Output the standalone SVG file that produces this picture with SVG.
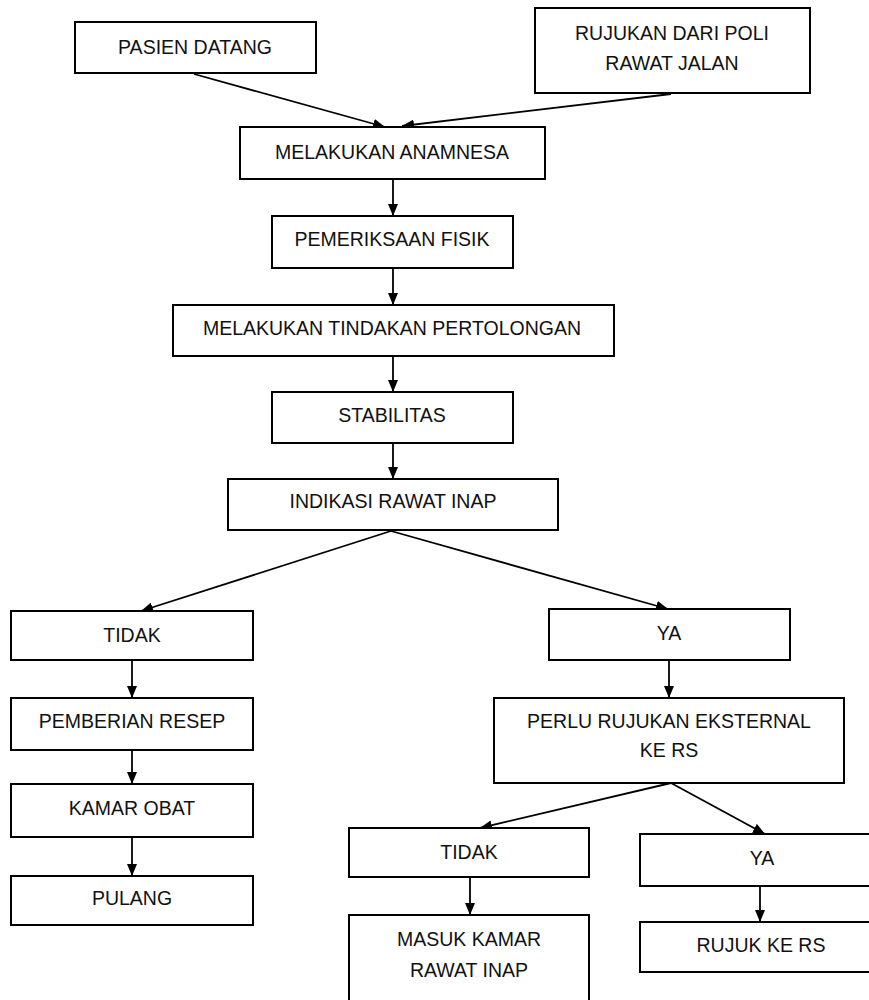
<svg xmlns="http://www.w3.org/2000/svg" width="869" height="1000" viewBox="0 0 869 1000">
<style>
.box{fill:#fff;stroke:#000;stroke-width:2}
.t{font-family:"Liberation Sans",Arial,sans-serif;font-size:19.5px;fill:#111;text-anchor:middle}
.c{stroke:#000;stroke-width:1.8;fill:none;marker-end:url(#ah)}
</style>
<defs>
<marker id="ah" markerUnits="userSpaceOnUse" markerWidth="12" markerHeight="10" refX="12" refY="5" orient="auto">
<path d="M0,0 L12,5 L0,10 z" fill="#000"/>
</marker>
</defs>
<rect width="869" height="1000" fill="#fff"/>
<g id="connectors">
<line class="c" x1="194" y1="74" x2="385" y2="127"/>
<line class="c" x1="671" y1="94" x2="402" y2="126"/>
<line class="c" x1="393" y1="179" x2="393" y2="216"/>
<line class="c" x1="393" y1="268" x2="393" y2="305"/>
<line class="c" x1="393" y1="356" x2="393" y2="392"/>
<line class="c" x1="393" y1="443" x2="393" y2="479"/>
<line class="c" x1="391" y1="531" x2="141" y2="611"/>
<line class="c" x1="391" y1="531" x2="668" y2="609"/>
<line class="c" x1="132" y1="660" x2="132" y2="698"/>
<line class="c" x1="669" y1="660" x2="669" y2="698"/>
<line class="c" x1="132" y1="750" x2="132" y2="784"/>
<line class="c" x1="132" y1="837" x2="132" y2="876"/>
<line class="c" x1="671" y1="783" x2="480" y2="828"/>
<line class="c" x1="671" y1="783" x2="765" y2="834"/>
<line class="c" x1="470" y1="877" x2="470" y2="915"/>
<line class="c" x1="760" y1="886" x2="760" y2="922"/>
</g>
<g id="pasien-datang"><rect class="box" x="75" y="22" width="241" height="51"/><text class="t" x="195" y="54">PASIEN DATANG</text></g>
<g id="rujukan-poli"><rect class="box" x="535" y="8" width="275" height="85"/><text class="t" x="672" y="40">RUJUKAN DARI POLI</text><text class="t" x="672" y="70">RAWAT JALAN</text></g>
<g id="anamnesa"><rect class="box" x="240" y="127" width="305" height="52"/><text class="t" x="392" y="159">MELAKUKAN ANAMNESA</text></g>
<g id="pemeriksaan"><rect class="box" x="272" y="216" width="241" height="52"/><text class="t" x="392" y="246">PEMERIKSAAN FISIK</text></g>
<g id="tindakan"><rect class="box" x="173" y="305" width="441" height="51"/><text class="t" x="392" y="335">MELAKUKAN TINDAKAN PERTOLONGAN</text></g>
<g id="stabilitas"><rect class="box" x="272" y="392" width="241" height="51"/><text class="t" x="392" y="422">STABILITAS</text></g>
<g id="indikasi"><rect class="box" x="228" y="479" width="330" height="51"/><text class="t" x="393" y="508">INDIKASI RAWAT INAP</text></g>
<g id="tidak1"><rect class="box" x="11" y="611" width="242" height="49"/><text class="t" x="132" y="642">TIDAK</text></g>
<g id="ya1"><rect class="box" x="549" y="609" width="241" height="51"/><text class="t" x="669" y="640">YA</text></g>
<g id="pemberian-resep"><rect class="box" x="11" y="698" width="242" height="52"/><text class="t" x="132" y="728">PEMBERIAN RESEP</text></g>
<g id="perlu-rujukan"><rect class="box" x="494" y="698" width="350" height="85"/><text class="t" x="669" y="728">PERLU RUJUKAN EKSTERNAL</text><text class="t" x="669" y="757">KE RS</text></g>
<g id="kamar-obat"><rect class="box" x="11" y="784" width="242" height="53"/><text class="t" x="132" y="815">KAMAR OBAT</text></g>
<g id="pulang"><rect class="box" x="11" y="876" width="242" height="49"/><text class="t" x="132" y="905">PULANG</text></g>
<g id="tidak2"><rect class="box" x="349" y="828" width="240" height="49"/><text class="t" x="469" y="859">TIDAK</text></g>
<g id="ya2"><rect class="box" x="640" y="834" width="240" height="52"/><text class="t" x="762" y="865">YA</text></g>
<g id="masuk-kamar"><rect class="box" x="349" y="915" width="240" height="100"/><text class="t" x="469" y="946">MASUK KAMAR</text><text class="t" x="469" y="977">RAWAT INAP</text></g>
<g id="rujuk-rs"><rect class="box" x="640" y="922" width="240" height="50"/><text class="t" x="761" y="952">RUJUK KE RS</text></g>
</svg>
